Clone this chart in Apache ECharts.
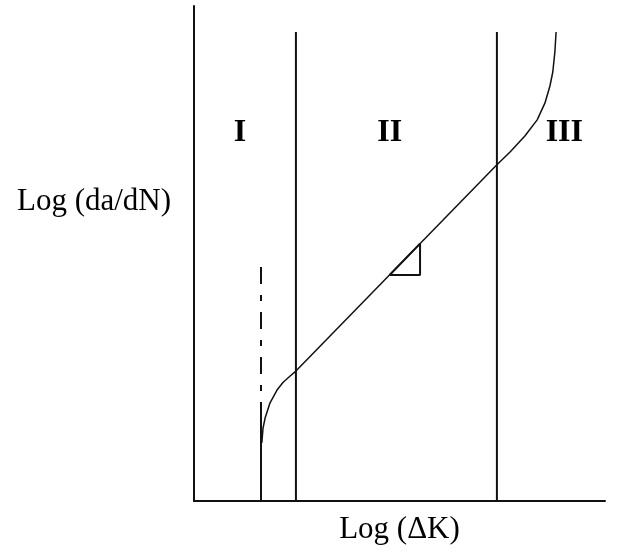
<!DOCTYPE html>
<html>
<head>
<meta charset="utf-8">
<script src="https://cdn.jsdelivr.net/npm/echarts@6/dist/echarts.min.js"></script>
<style>
html, body { margin: 0; padding: 0; background: #ffffff; }
#chart { width: 619px; height: 548px; }
</style>
</head>
<body>
<div id="chart"></div>
<script>
// Schematic fatigue crack-growth curve: log(da/dN) against log(ΔK), in abstract units
const xRange = [0, 10];
const yRange = [0, 12];

// Region names and where they sit
const regionNames = ['I', 'II', 'III'];
const regionLabelX = [1.12, 4.76, 9.01];
const regionLabelY = [8.92, 8.92, 8.92];

// Threshold ΔK: solid near the axis, dash-dot above
const thresholdX = 1.63;
const thresholdSolidTop = 2.40;
const thresholdDashTop = 5.67;

// Boundaries between regions I/II and II/III
const boundaryX = [2.48, 7.37];
const boundaryTop = 11.37;

// Crack-growth curve: near-threshold knee, linear (Paris) part, fast-fracture upturn
const curveX = [1.65, 1.68, 1.73, 1.85, 2.02, 2.17, 2.34, 2.48, 7.37, 7.69, 8.05, 8.35, 8.54, 8.66, 8.73, 8.78, 8.81];
const curveY = [1.41, 1.77, 2.01, 2.38, 2.69, 2.88, 3.03, 3.15, 8.15, 8.46, 8.85, 9.24, 9.65, 10.06, 10.40, 10.88, 11.37];

// Slope triangle on the linear part
const triX = [4.76, 5.50, 5.50];
const triY = [5.48, 5.48, 6.24];

const ink = '#111111';
const serif = '"Liberation Serif", "Times New Roman", serif';

const zip = (xs, ys) => xs.map((x, i) => [x, ys[i]]);

const plainLine = (data, width, type) => ({
  type: 'line',
  data: data,
  symbol: 'none',
  silent: true,
  smooth: false,
  lineStyle: { color: ink, width: width, type: type || 'solid' }
});

const series = [
  plainLine([[thresholdX, yRange[0]], [thresholdX, thresholdSolidTop]], 2),
  plainLine([[thresholdX, thresholdDashTop], [thresholdX, thresholdSolidTop]], 2, [17, 11, 6, 11]),
  plainLine([[boundaryX[0], yRange[0]], [boundaryX[0], boundaryTop]], 2),
  plainLine([[boundaryX[1], yRange[0]], [boundaryX[1], boundaryTop]], 2),
  plainLine(zip(curveX, curveY), 1.5),
  plainLine(zip(triX, triY).concat([[triX[0], triY[0]]]), 2),
  {
    type: 'scatter',
    silent: true,
    symbolSize: 0,
    itemStyle: { opacity: 1 },
    data: regionNames.map((n, i) => ({ value: [regionLabelX[i], regionLabelY[i]], name: n })),
    label: {
      show: true,
      position: 'inside',
      formatter: p => p.name,
      color: '#000',
      opacity: 1,
      fontFamily: serif,
      fontWeight: 'bold',
      fontSize: 32
    }
  }
];

const chart = echarts.init(document.getElementById('chart'), null, { renderer: 'canvas' });
chart.setOption({
  animation: false,
  backgroundColor: '#ffffff',
  grid: { left: 194, right: 14, top: 6, bottom: 47, containLabel: false, outerBoundsMode: 'none' },
  xAxis: {
    type: 'value',
    min: xRange[0], max: xRange[1],
    axisLine: { show: true, lineStyle: { color: ink, width: 2 } },
    axisTick: { show: false },
    axisLabel: { show: false },
    splitLine: { show: false },
    name: 'Log (ΔK)',
    nameLocation: 'middle',
    nameGap: 13,
    nameTextStyle: { color: '#000', fontFamily: serif, fontSize: 31 }
  },
  yAxis: {
    type: 'value',
    min: yRange[0], max: yRange[1],
    axisLine: { show: true, lineStyle: { color: ink, width: 2 } },
    axisTick: { show: false },
    axisLabel: { show: false },
    splitLine: { show: false }
  },
  graphic: [{
    type: 'text',
    x: 94,
    y: 202,
    style: {
      text: 'Log (da/dN)',
      fill: '#000',
      font: '31px ' + serif,
      textAlign: 'center',
      textVerticalAlign: 'middle'
    }
  }],
  series: series
});
</script>
</body>
</html>
